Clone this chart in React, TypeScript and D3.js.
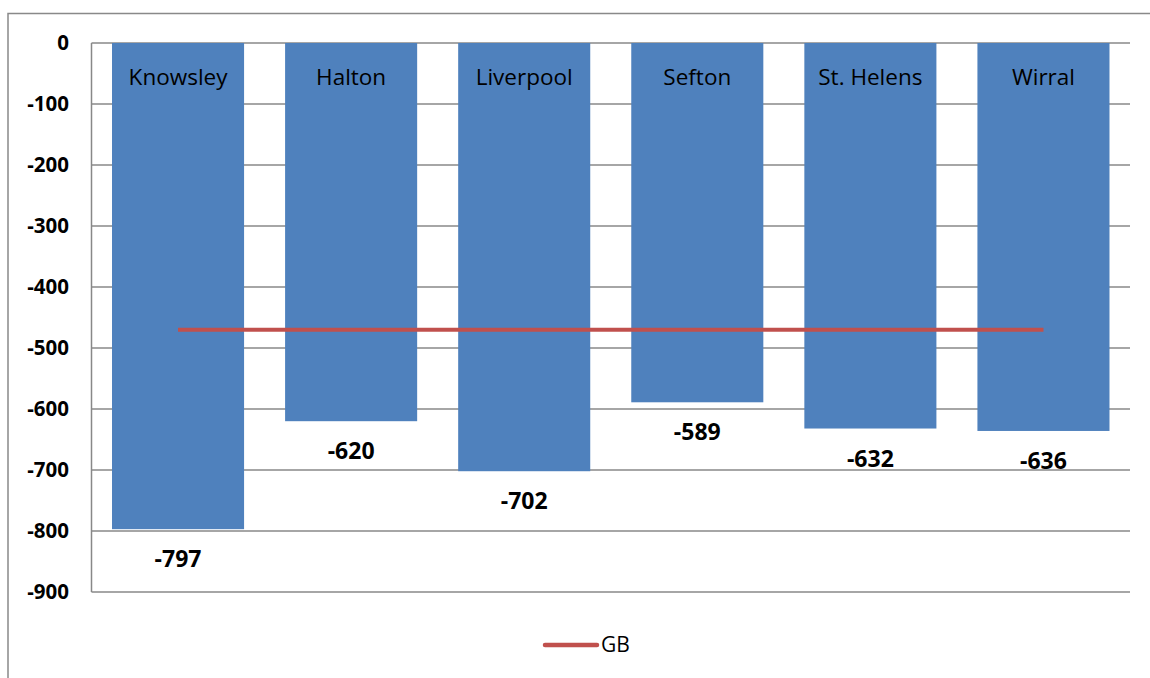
import React from "react";
import * as d3 from "d3";

const categories = ["Knowsley", "Halton", "Liverpool", "Sefton", "St. Helens", "Wirral"];
const values = [-797, -620, -702, -589, -632, -636];
const gbValue = -470;
const yTicks = [0, -100, -200, -300, -400, -500, -600, -700, -800, -900];

const W = 1150;
const H = 678;
const left = 91.5;
const right = 1130;
const top = 43;
const bottom = 592;
const font = "'Open Sans', 'Liberation Sans', sans-serif";

export default function App() {
  const x = d3.scaleBand<string>().domain(categories).range([left, right]).paddingInner(0.237).paddingOuter(0.1185);
  const y = d3.scaleLinear().domain([0, -900]).range([top, bottom]);
  const line = d3.line<string>().x((c) => (x(c) as number) + x.bandwidth() / 2).y(() => y(gbValue));
  return (
    <svg width={W} height={H} style={{ position: "absolute", left: 0, top: 0 }}>
      <rect x={0} y={0} width={W} height={H} fill="#fff" />
      <path d={`M8,${H} V13.5 H${W}`} fill="none" stroke="#898989" strokeWidth={1.5} />
      {yTicks.map((t) => (
        <g key={t}>
          <line x1={left} x2={right} y1={y(t)} y2={y(t)} stroke="#888" strokeWidth={1.5} />
          <text x={69} y={y(t)} dy="0.35em" textAnchor="end" fontFamily={font} fontWeight="bold" fontSize={20.5} fill="#000">
            {t}
          </text>
        </g>
      ))}
      <line x1={left} x2={left} y1={top} y2={bottom} stroke="#888" strokeWidth={1.5} />
      {categories.map((c, i) => {
        const bx = x(c) as number;
        const bw = x.bandwidth();
        return (
          <g key={c}>
            <rect x={bx} y={y(0)} width={bw} height={y(values[i]) - y(0)} fill="#4F81BD" />
            <text x={bx + bw / 2} y={77} dy="0.35em" textAnchor="middle" fontFamily={font} fontSize={22.5} fill="#000">
              {c}
            </text>
            <text x={bx + bw / 2} y={y(values[i]) + 30} dy="0.35em" textAnchor="middle" fontFamily={font} fontWeight="bold" fontSize={23} fill="#000">
              {values[i]}
            </text>
          </g>
        );
      })}
      <path d={line(categories) || ""} fill="none" stroke="#C0504D" strokeWidth={4} />
      <line x1={545} x2={597} y1={645} y2={645} stroke="#C0504D" strokeWidth={4.5} strokeLinecap="round" />
      <text x={601} y={645} dy="0.35em" fontFamily={font} fontSize={21} fill="#000">GB</text>
    </svg>
  );
}
